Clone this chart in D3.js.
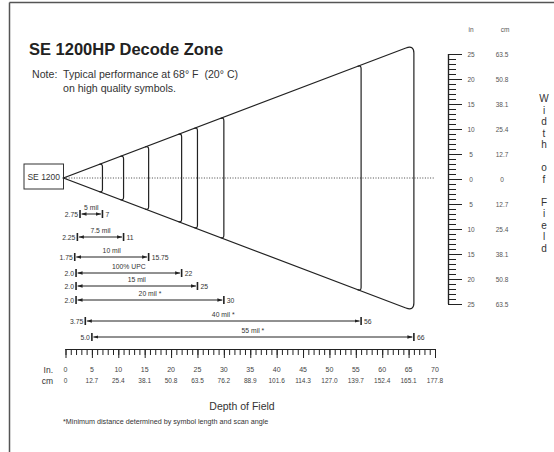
<!DOCTYPE html>
<html><head><meta charset="utf-8">
<script src="https://cdn.jsdelivr.net/npm/d3@7/dist/d3.min.js"></script>
<style>
html,body{margin:0;padding:0;background:#fff;}
svg{display:block;}
text{font-family:"Liberation Sans",Arial,sans-serif;fill:#333;}
</style></head>
<body>
<svg id="chart" width="554" height="452"></svg>
<script>
// ---- data ----
const rangeLabels = ["5 mil","7.5 mil","10 mil","100% UPC","15 mil","20 mil *","40 mil *","55 mil *"];
const nearRange = [2.75, 2.25, 1.75, 2.0, 2.0, 2.0, 3.75, 5.0];
const farRange  = [7, 11, 15.75, 22, 25, 30, 56, 66];
const nearLabels = ["2.75","2.25","1.75","2.0","2.0","2.0","3.75","5.0"];
const farLabels  = ["7","11","15.75","22","25","30","56","66"];
const depthTicksIn = [0,5,10,15,20,25,30,35,40,45,50,55,60,65,70];
const depthTicksCm = ["0","12.7","25.4","38.1","50.8","63.5","76.2","88.9","101.6","114.3","127.0","139.7","152.4","165.1","177.8"];
const widthTicksIn = [25,20,15,10,5,0,-5,-10,-15,-20,-25];
const widthLabelsIn = ["25","20","15","10","5","0","5","10","15","20","25"];
const widthLabelsCm = ["63.5","50.8","38.1","25.4","12.7","0","12.7","25.4","38.1","50.8","63.5"];
const coneDepth = 66, coneHalfWidth = 26.8;
// layout for range rows (vertical positions)
const rowY = [214, 237, 257, 273, 286, 300, 321, 337];

const svg = d3.select("#chart");
const ink = "#222";

// frame
svg.append("line").attr("x1",9.5).attr("y1",2.5).attr("x2",554).attr("y2",2.5).attr("stroke","#555").attr("stroke-width",1.5);
svg.append("line").attr("x1",9.5).attr("y1",2.5).attr("x2",9.5).attr("y2",452).attr("stroke","#555").attr("stroke-width",1.5);

// title
svg.append("text").attr("x",29).attr("y",55).attr("font-size",16.5).attr("font-weight","bold").style("fill","#222").text("SE 1200HP Decode Zone");
svg.append("text").attr("x",32).attr("y",78).attr("font-size",10.6).style("white-space","pre").text("Note:  Typical performance at 68° F  (20° C)");
svg.append("text").attr("x",63).attr("y",92).attr("font-size",10.6).text("on high quality symbols.");

// scales
const x = d3.scaleLinear().domain([0,70]).range([65.5,435]);
const wy = d3.scaleLinear().domain([-25,25]).range([304,54]);
const cy = wy(0) - 1;
const apexX = x(0) - 2;

// scanner box
svg.append("rect").attr("x",24).attr("y",164).attr("width",apexX-24).attr("height",25).attr("fill","#fff").attr("stroke","#333").attr("stroke-width",1);
svg.append("text").attr("x",(24+apexX)/2).attr("y",180).attr("text-anchor","middle").attr("font-size",8.5).text("SE 1200");

// cone
const endX = x(coneDepth);
const slope = (cy - wy(coneHalfWidth)) / (endX - apexX);
const topY = px => cy - (px - apexX) * slope;
const botY = px => cy + (px - apexX) * slope;

// dotted center line
svg.append("line").attr("x1",apexX).attr("y1",cy).attr("x2",x(70)-1).attr("y2",cy)
  .attr("stroke","#444").attr("stroke-width",1).attr("stroke-dasharray","1,1.6");

const rEnd = 8;
svg.append("path").attr("fill","none").attr("stroke",ink).attr("stroke-width",1.2)
  .attr("d",`M${endX-rEnd},${topY(endX-rEnd)} L${apexX},${cy} L${endX-rEnd},${botY(endX-rEnd)}`);

svg.selectAll("path.arc").data(farRange).join("path").attr("class","arc")
  .attr("fill","none").attr("stroke",ink).attr("stroke-width",1.2)
  .attr("d",(d,i)=>{
    const X = x(d);
    const r = (i===farRange.length-1) ? rEnd : 3.5;
    return `M${X-r},${topY(X-r)} Q${X},${topY(X)} ${X},${topY(X)+r} L${X},${botY(X)-r} Q${X},${botY(X)} ${X-r},${botY(X-r)}`;
  });

// range rows
const defs = svg.append("defs");
defs.append("marker").attr("id","arr").attr("viewBox","0 0 10 10").attr("refX",10).attr("refY",5)
  .attr("markerWidth",5).attr("markerHeight",5).attr("orient","auto-start-reverse").attr("markerUnits","userSpaceOnUse")
  .append("path").attr("d","M0,1.5 L10,5 L0,8.5 Z").attr("fill",ink);

const rows = svg.selectAll("g.row").data(rangeLabels.map((l,i)=>({l,i}))).join("g").attr("class","row")
  .attr("transform",d=>`translate(0,${rowY[d.i]})`);
rows.append("line").attr("x1",d=>x(nearRange[d.i])+1.5).attr("x2",d=>x(farRange[d.i])-1.5).attr("y1",0).attr("y2",0)
  .attr("stroke",ink).attr("stroke-width",1).attr("marker-start","url(#arr)").attr("marker-end","url(#arr)");
rows.append("line").attr("x1",d=>x(nearRange[d.i])).attr("x2",d=>x(nearRange[d.i])).attr("y1",-4).attr("y2",4).attr("stroke",ink).attr("stroke-width",1.6);
rows.append("line").attr("x1",d=>x(farRange[d.i])).attr("x2",d=>x(farRange[d.i])).attr("y1",-4).attr("y2",4).attr("stroke",ink).attr("stroke-width",1.6);
rows.append("text").attr("x",d=>x(nearRange[d.i])-2).attr("y",2.5).attr("text-anchor","end").attr("font-size",6.8).text(d=>nearLabels[d.i]);
rows.append("text").attr("x",d=>x(farRange[d.i])+3).attr("y",2.5).attr("font-size",6.8).text(d=>farLabels[d.i]);
rows.append("text").attr("x",d=>(x(nearRange[d.i])+x(farRange[d.i]))/2).attr("y",-4).attr("text-anchor","middle").attr("font-size",6.8).text(d=>d.l);

// bottom depth axis
const axisY = 349;
const gMinor = svg.append("g").attr("transform",`translate(0,${axisY})`)
  .call(d3.axisBottom(x).tickValues(d3.range(0,71,1)).tickSize(6).tickFormat(""));
const gMajor = svg.append("g").attr("transform",`translate(0,${axisY})`)
  .call(d3.axisBottom(x).tickValues(depthTicksIn).tickSize(9).tickFormat(""));
[gMinor,gMajor].forEach(g=>{
  g.selectAll("path.domain").attr("stroke",ink).attr("stroke-width",1.2).attr("d",`M${x(0)},0.5H${x(70)}`);
  g.selectAll(".tick line").attr("stroke",ink).attr("stroke-width",1);
});
svg.selectAll("text.din").data(depthTicksIn).join("text").attr("class","din")
  .attr("x",d=>x(d)).attr("y",372).attr("text-anchor","middle").attr("font-size",7).style("fill","#444").text(d=>d);
svg.selectAll("text.dcm").data(depthTicksIn).join("text").attr("class","dcm")
  .attr("x",d=>x(d)).attr("y",383).attr("text-anchor","middle").attr("font-size",6.5).style("fill","#444").text((d,i)=>depthTicksCm[i]);
svg.append("text").attr("x",53).attr("y",373).attr("text-anchor","end").attr("font-size",8.5).text("In.");
svg.append("text").attr("x",53).attr("y",384).attr("text-anchor","end").attr("font-size",8.5).text("cm");
svg.append("text").attr("x",242).attr("y",410).attr("text-anchor","middle").attr("font-size",10.5).text("Depth of Field");
svg.append("text").attr("x",63).attr("y",424).attr("font-size",7.2).text("*Minimum distance determined by symbol length and scan angle");

// right width axis
const axX = 448;
const rMinor = svg.append("g").attr("transform",`translate(${axX},0)`)
  .call(d3.axisRight(wy).tickValues(d3.range(-25,26,1)).tickSize(8).tickFormat(""));
const rMajor = svg.append("g").attr("transform",`translate(${axX},0)`)
  .call(d3.axisRight(wy).tickValues(widthTicksIn).tickSize(14).tickFormat(""));
[rMinor,rMajor].forEach(g=>{
  g.selectAll("path.domain").attr("stroke",ink).attr("stroke-width",1.2).attr("d",`M0.5,${wy(25)}V${wy(-25)}`);
  g.selectAll(".tick line").attr("stroke",ink).attr("stroke-width",1);
});
svg.append("text").attr("x",471).attr("y",32).attr("text-anchor","middle").attr("font-size",6.5).style("fill","#555").text("in");
svg.append("text").attr("x",505).attr("y",32).attr("text-anchor","middle").attr("font-size",6.5).style("fill","#555").text("cm");
svg.selectAll("text.win").data(widthTicksIn).join("text").attr("class","win")
  .attr("x",471).attr("y",d=>wy(d)+2.5).attr("text-anchor","middle").attr("font-size",6.5).style("fill","#555").text((d,i)=>widthLabelsIn[i]);
svg.selectAll("text.wcm").data(widthTicksIn).join("text").attr("class","wcm")
  .attr("x",502).attr("y",d=>wy(d)+2.5).attr("text-anchor","middle").attr("font-size",6.5).style("fill","#555").text((d,i)=>widthLabelsCm[i]);

// vertical title
const vt = "Width of Field".split("");
svg.selectAll("text.vt").data(vt).join("text").attr("class","vt")
  .attr("x",544).attr("y",(d,i)=>102 + i*11.5).attr("text-anchor","middle").attr("font-size",10).style("fill","#333").text(d=>d===" "?"":d);
</script>
</body></html>
